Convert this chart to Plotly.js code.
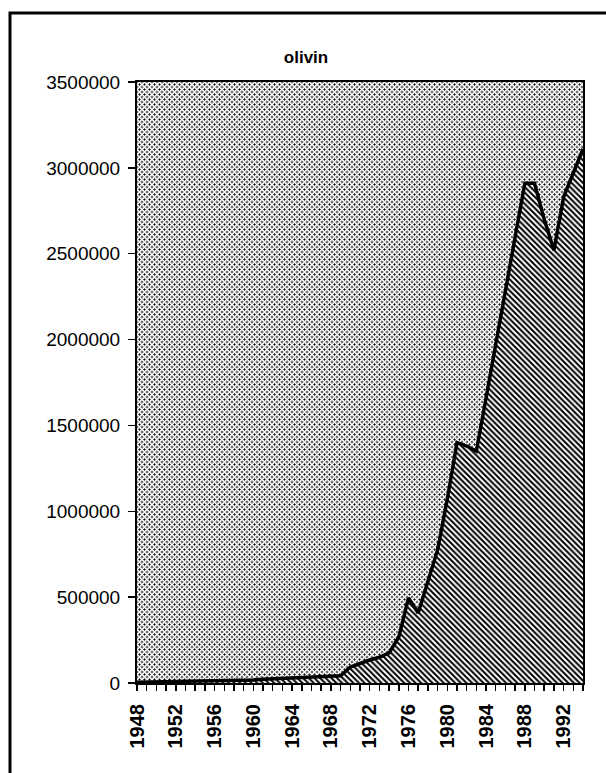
<!DOCTYPE html>
<html>
<head>
<meta charset="utf-8">
<script src="https://cdn.plot.ly/plotly-3.0.1.min.js"></script>
<style>
  html, body { margin:0; padding:0; background:#fff; }
  #wrap { position:relative; width:606px; height:773px; }
  #bgpat {
    position:absolute; left:137px; top:82px; width:446px; height:601px;
    background-color:#fff;
    background-image:
      radial-gradient(circle, #111 0.9px, transparent 1.2px),
      radial-gradient(circle, #111 0.9px, transparent 1.2px);
    background-size:5px 5px, 5px 5px;
    background-position:0 0, 2.5px 2.5px;
  }
  #chart { position:absolute; left:0; top:0; width:606px; height:773px; }
</style>
</head>
<body>
<div id="wrap">
  <div id="bgpat"></div>
  <div id="chart"></div>
</div>
<script>
// Data
const years = [1948,1949,1950,1951,1952,1953,1954,1955,1956,1957,1958,1959,
               1960,1961,1962,1963,1964,1965,1966,1967,1968,1969,1970,1971,
               1972,1973,1974,1975,1976,1977,1978,1979,1980,1981,1982,1983,
               1984,1985,1986,1987,1988,1989,1990,1991,1992,1993,1994];
const olivin = [5000,6000,7000,8000,9000,10000,12000,14000,12000,11000,12000,14000,
                18000,22000,25000,28000,28000,30000,32000,36000,40000,42000,93000,115000,
                134000,150000,175000,268000,495000,408000,590000,775000,1070000,1400000,1380000,1350000,
                1660000,1970000,2280000,2600000,2910000,2910000,2700000,2520000,2830000,2970000,3110000];
const yTicks = [0,500000,1000000,1500000,2000000,2500000,3000000,3500000];
const xTickYears = [1948,1952,1956,1960,1964,1968,1972,1976,1980,1984,1988,1992];
const chartTitle = 'olivin';

const trace = {
  type:'scatter', mode:'lines', x:years, y:olivin,
  fill:'tozeroy',
  fillpattern:{shape:'\\', fgcolor:'#000', bgcolor:'#fff', size:4, solidity:0.5},
  fillcolor:'rgba(0,0,0,0)',
  line:{color:'#000', width:3.5},
  hoverinfo:'skip', showlegend:false
};

const L = 137, T = 82, W = 446, H = 601;
const px = v => (v - L) / W;
const py = v => (T + H - v) / H;

const layout = {
  width:606, height:773,
  margin:{l:L, r:606-L-W, t:T, b:773-T-H, pad:0},
  paper_bgcolor:'rgba(0,0,0,0)',
  plot_bgcolor:'rgba(0,0,0,0)',
  font:{family:'Liberation Sans, Arial, sans-serif', color:'#000', size:18},
  title:{text:chartTitle, x:0.505, xref:'container', y:1-57/773, yref:'container',
         xanchor:'center', yanchor:'middle',
         font:{family:'Liberation Sans, Arial, sans-serif', size:17, color:'#000', weight:'bold'}},
  xaxis:{
    type:'linear', range:[1948,1994], showgrid:false, zeroline:false,
    tickmode:'array', tickvals:xTickYears, ticktext:xTickYears.map(String),
    tickangle:-90, ticks:'outside', ticklen:6, tickwidth:1.5, tickcolor:'#000',
    minor:{dtick:1, tick0:1948, ticks:'outside', ticklen:6, tickwidth:1.5, tickcolor:'#000', showgrid:false},
    showline:true, linecolor:'#000', linewidth:2, mirror:true,
    tickfont:{size:20, weight:'bold'}, ticklabelstandoff:5
  },
  xaxis2:{
    overlaying:'x', anchor:'y', side:'bottom', range:[1948,1994], showgrid:false, zeroline:false,
    dtick:1, tick0:1948, ticks:'inside', ticklen:4, tickwidth:1.5, tickcolor:'#000',
    showticklabels:false, showline:false
  },
  yaxis:{
    range:[0,3500000], showgrid:false, zeroline:false,
    tickmode:'array', tickvals:yTicks, ticktext:yTicks.map(String),
    ticks:'outside', ticklen:7, tickwidth:1.5, tickcolor:'#000',
    showline:true, linecolor:'#000', linewidth:2, mirror:true,
    tickfont:{size:19}, ticklabelstandoff:4
  },
  shapes:[{
    type:'rect', xref:'paper', yref:'paper',
    x0:px(10), x1:px(640), y0:py(800), y1:py(13),
    line:{color:'#000', width:3}, fillcolor:'rgba(0,0,0,0)', layer:'below'
  }]
};

Plotly.newPlot('chart', [trace], layout, {staticPlot:true, displayModeBar:false});
</script>
</body>
</html>
